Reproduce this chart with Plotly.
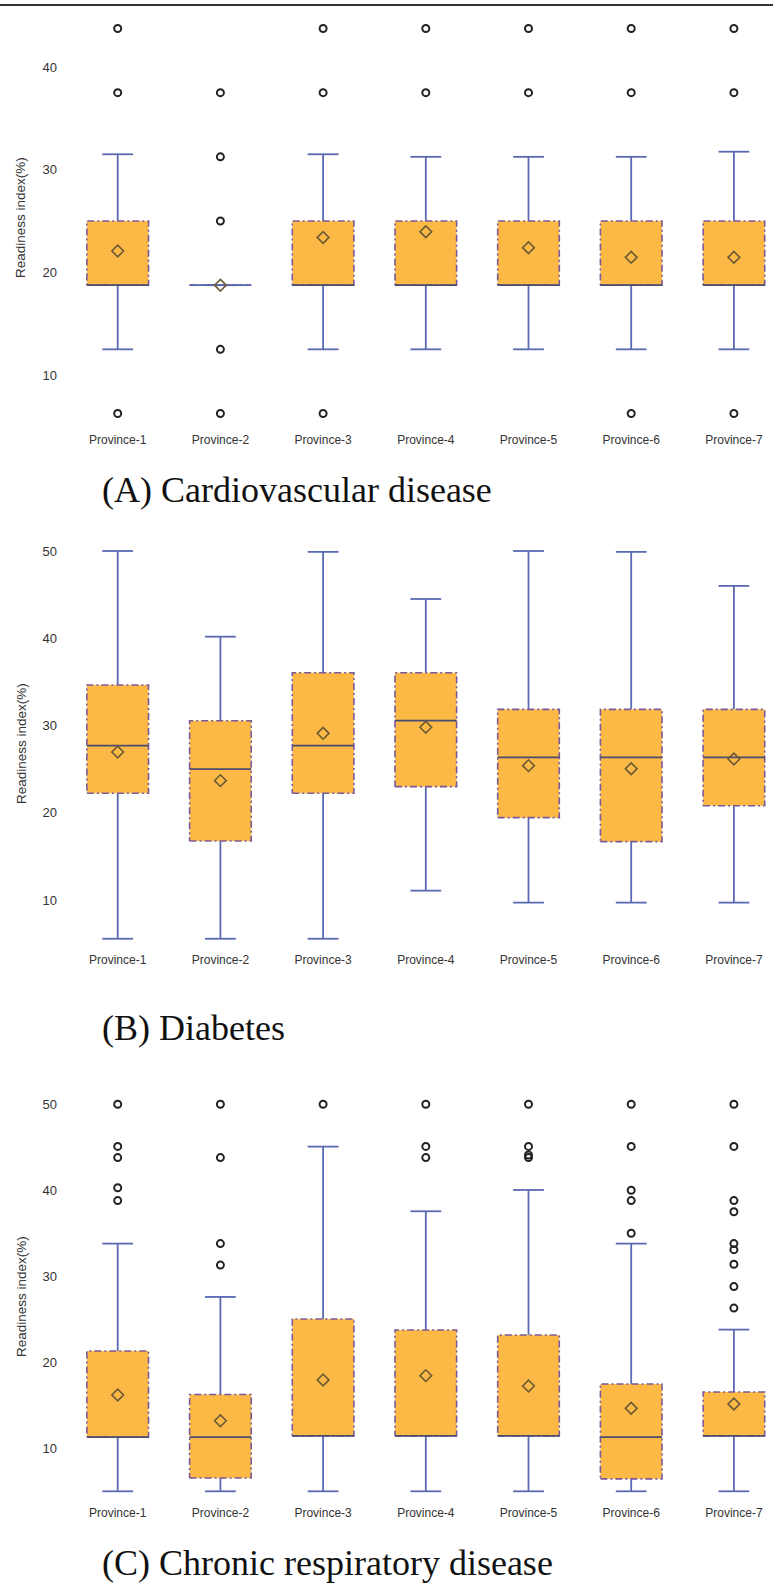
import plotly.graph_objects as go

# ---------------- data ----------------
provinces = ["Province-1", "Province-2", "Province-3", "Province-4",
             "Province-5", "Province-6", "Province-7"]

panel_titles = ["(A) Cardiovascular disease", "(B) Diabetes",
                "(C) Chronic respiratory disease"]
y_title = "Readiness index(%)"

# (A) Cardiovascular disease
a_lower = [12.5, 18.75, 12.5, 12.5, 12.5, 12.5, 12.5]
a_q1 = [18.75, 18.75, 18.75, 18.75, 18.75, 18.75, 18.75]
a_median = [18.75, 18.75, 18.75, 18.75, 18.75, 18.75, 18.75]
a_q3 = [25.0, 18.75, 25.0, 25.0, 25.0, 25.0, 25.0]
a_upper = [31.5, 18.75, 31.5, 31.25, 31.25, 31.25, 31.75]
a_mean = [22.08, 18.75, 23.4, 23.96, 22.4, 21.46, 21.46]
a_outliers = [[6.25, 37.5, 43.75], [6.25, 12.5, 25.0, 31.25, 37.5],
              [6.25, 37.5, 43.75], [37.5, 43.75], [37.5, 43.75],
              [6.25, 37.5, 43.75], [6.25, 37.5, 43.75]]
a_ticks = [10, 20, 30, 40]

# (B) Diabetes
b_lower = [5.56, 5.56, 5.56, 11.07, 9.7, 9.7, 9.7]
b_q1 = [22.23, 16.76, 22.23, 22.99, 19.44, 16.69, 20.8]
b_median = [27.69, 25.0, 27.69, 30.55, 26.35, 26.35, 26.35]
b_q3 = [34.64, 30.55, 36.05, 36.05, 31.85, 31.85, 31.85]
b_upper = [50.0, 40.18, 49.9, 44.5, 50.0, 49.9, 46.0]
b_mean = [26.96, 23.68, 29.1, 29.8, 25.4, 25.05, 26.16]
b_outliers = [[], [], [], [], [], [], []]
b_ticks = [10, 20, 30, 40, 50]

# (C) Chronic respiratory disease
c_lower = [5.0, 5.0, 5.0, 5.0, 5.0, 5.0, 5.0]
c_q1 = [11.3, 6.55, 11.45, 11.45, 11.45, 6.45, 11.45]
c_median = [11.3, 11.3, 11.45, 11.45, 11.45, 11.3, 11.45]
c_q3 = [21.32, 16.25, 25.04, 23.76, 23.18, 17.48, 16.55]
c_upper = [33.8, 27.6, 45.08, 37.56, 40.04, 33.8, 23.8]
c_mean = [16.2, 13.2, 17.95, 18.45, 17.25, 14.65, 15.16]
c_outliers = [[38.8, 40.3, 43.8, 45.1, 50.0], [31.3, 33.8, 43.8, 50.0], [50.0],
              [43.8, 45.1, 50.0], [43.8, 44.1, 45.1, 50.0],
              [35.0, 38.8, 40.0, 45.1, 50.0],
              [26.3, 28.8, 31.4, 33.1, 33.8, 37.5, 38.8, 45.1, 50.0]]
c_ticks = [10, 20, 30, 40, 50]

# ---------------- style / layout ----------------
W, H = 773, 1593
FILL = "#FDB945"
BORDER = "#7a5a9a"
WHISKER = "#5a6ab2"
MEDIAN = "#4a4c70"
MEAN_C = "#6b5a35"
OUT_C = "#222222"
BOX_HALF = 0.3
CAP_HALF = 0.15

x_left_px, cat0_px, cat_step_px = 66, 117.7, 102.7
x_range = [(x_left_px - cat0_px) / cat_step_px, (W - cat0_px) / cat_step_px]

panels = [
    dict(lower=a_lower, q1=a_q1, med=a_median, q3=a_q3, upper=a_upper, mean=a_mean,
         out=a_outliers, ticks=a_ticks, anchors=((10, 375.0), (40, 67.0)),
         top=15, bottom=431, title_y=490, ytitle_y=218),
    dict(lower=b_lower, q1=b_q1, med=b_median, q3=b_q3, upper=b_upper, mean=b_mean,
         out=b_outliers, ticks=b_ticks, anchors=((10, 900.0), (50, 551.0)),
         top=535, bottom=951, title_y=1028, ytitle_y=744),
    dict(lower=c_lower, q1=c_q1, med=c_median, q3=c_q3, upper=c_upper, mean=c_mean,
         out=c_outliers, ticks=c_ticks, anchors=((10, 1448.3), (50, 1104.3)),
         top=1090, bottom=1504, title_y=1563, ytitle_y=1297),
]

fig = go.Figure()
layout = dict(
    width=W, height=H, margin=dict(l=0, r=0, t=0, b=0),
    paper_bgcolor="white", plot_bgcolor="white", showlegend=False,
    font=dict(family="Liberation Sans, Arial, sans-serif", size=12, color="#333333"),
)
annotations = []

for k, p in enumerate(panels):
    sfx = "" if k == 0 else str(k + 1)
    xa, ya = "x" + sfx, "y" + sfx
    idx = list(range(len(provinces)))

    # whiskers
    wx, wy = [], []
    for i in idx:
        wx += [i, i, None, i, i, None,
               i - CAP_HALF, i + CAP_HALF, None, i - CAP_HALF, i + CAP_HALF, None]
        wy += [p["lower"][i], p["q1"][i], None, p["q3"][i], p["upper"][i], None,
               p["lower"][i], p["lower"][i], None, p["upper"][i], p["upper"][i], None]
    fig.add_trace(go.Scatter(x=wx, y=wy, mode="lines", xaxis=xa, yaxis=ya,
                             line=dict(color=WHISKER, width=1.8), hoverinfo="skip"))
    # boxes
    bx, by = [], []
    for i in idx:
        bx += [i - BOX_HALF, i + BOX_HALF, i + BOX_HALF, i - BOX_HALF, i - BOX_HALF, None]
        by += [p["q1"][i], p["q1"][i], p["q3"][i], p["q3"][i], p["q1"][i], None]
    fig.add_trace(go.Scatter(x=bx, y=by, mode="lines", fill="toself", fillcolor=FILL,
                             xaxis=xa, yaxis=ya,
                             line=dict(color=BORDER, width=1.6, dash="7px,3px,2px,3px"),
                             hoverinfo="skip"))
    # medians (a degenerate box shows its line in whisker colour)
    mx, my, dx, dy = [], [], [], []
    for i in idx:
        if p["q1"][i] == p["q3"][i]:
            dx += [i - BOX_HALF, i + BOX_HALF, None]
            dy += [p["med"][i], p["med"][i], None]
        else:
            mx += [i - BOX_HALF, i + BOX_HALF, None]
            my += [p["med"][i], p["med"][i], None]
    fig.add_trace(go.Scatter(x=mx, y=my, mode="lines", xaxis=xa, yaxis=ya,
                             line=dict(color=MEDIAN, width=1.8), hoverinfo="skip"))
    if dx:
        fig.add_trace(go.Scatter(x=dx, y=dy, mode="lines", xaxis=xa, yaxis=ya,
                                 line=dict(color=WHISKER, width=1.8), hoverinfo="skip"))
    # means
    fig.add_trace(go.Scatter(x=idx, y=p["mean"], mode="markers", xaxis=xa, yaxis=ya,
                             marker=dict(symbol="diamond-open", size=9, color=MEAN_C,
                                         line=dict(width=1.6, color=MEAN_C))))
    # outliers
    ox, oy = [], []
    for i in idx:
        for v in p["out"][i]:
            ox.append(i)
            oy.append(v)
    if ox:
        fig.add_trace(go.Scatter(x=ox, y=oy, mode="markers", xaxis=xa, yaxis=ya,
                                 marker=dict(symbol="circle-open", size=7, color=OUT_C,
                                             line=dict(width=2, color=OUT_C))))

    (v1, p1), (v2, p2) = p["anchors"]
    ppu = (p1 - p2) / (v2 - v1)
    ytop = v1 + (p1 - p["top"]) / ppu
    ybot = v1 - (p["bottom"] - p1) / ppu
    ydom = [1 - p["bottom"] / H, 1 - p["top"] / H]

    layout["xaxis" + sfx] = dict(
        domain=[x_left_px / W, 1], range=x_range, anchor=ya,
        tickmode="array", tickvals=idx, ticktext=provinces,
        showgrid=False, zeroline=False, showline=False, ticks="",
        tickfont=dict(size=12, color="#333333"))
    layout["yaxis" + sfx] = dict(
        domain=ydom, range=[ybot, ytop], anchor=xa,
        tickmode="array", tickvals=p["ticks"],
        showgrid=False, zeroline=False, showline=False, ticks="",
        ticklabelstandoff=8, tickfont=dict(size=13, color="#333333"))

    annotations.append(dict(text=panel_titles[k], xref="paper", yref="paper",
                            x=100 / W, y=1 - p["title_y"] / H, xanchor="left",
                            yanchor="middle", showarrow=False,
                            font=dict(family="Liberation Serif, Times New Roman, serif",
                                      size=36, color="#111111")))
    annotations.append(dict(text=y_title, xref="paper", yref="paper",
                            x=21 / W, y=1 - p["ytitle_y"] / H, xanchor="center",
                            yanchor="middle", textangle=-90, showarrow=False,
                            font=dict(size=13.5, color="#333333")))

layout["annotations"] = annotations
layout["shapes"] = [dict(type="line", xref="paper", yref="paper", x0=0, x1=1,
                         y0=1 - 5 / H, y1=1 - 5 / H,
                         line=dict(color="#333333", width=2))]
fig.update_layout(**layout)
fig.write_html("out.html",
               config={"displayModeBar": False},
               post_script="document.body.style.margin='0';"
                           "document.body.style.overflow='hidden';")
